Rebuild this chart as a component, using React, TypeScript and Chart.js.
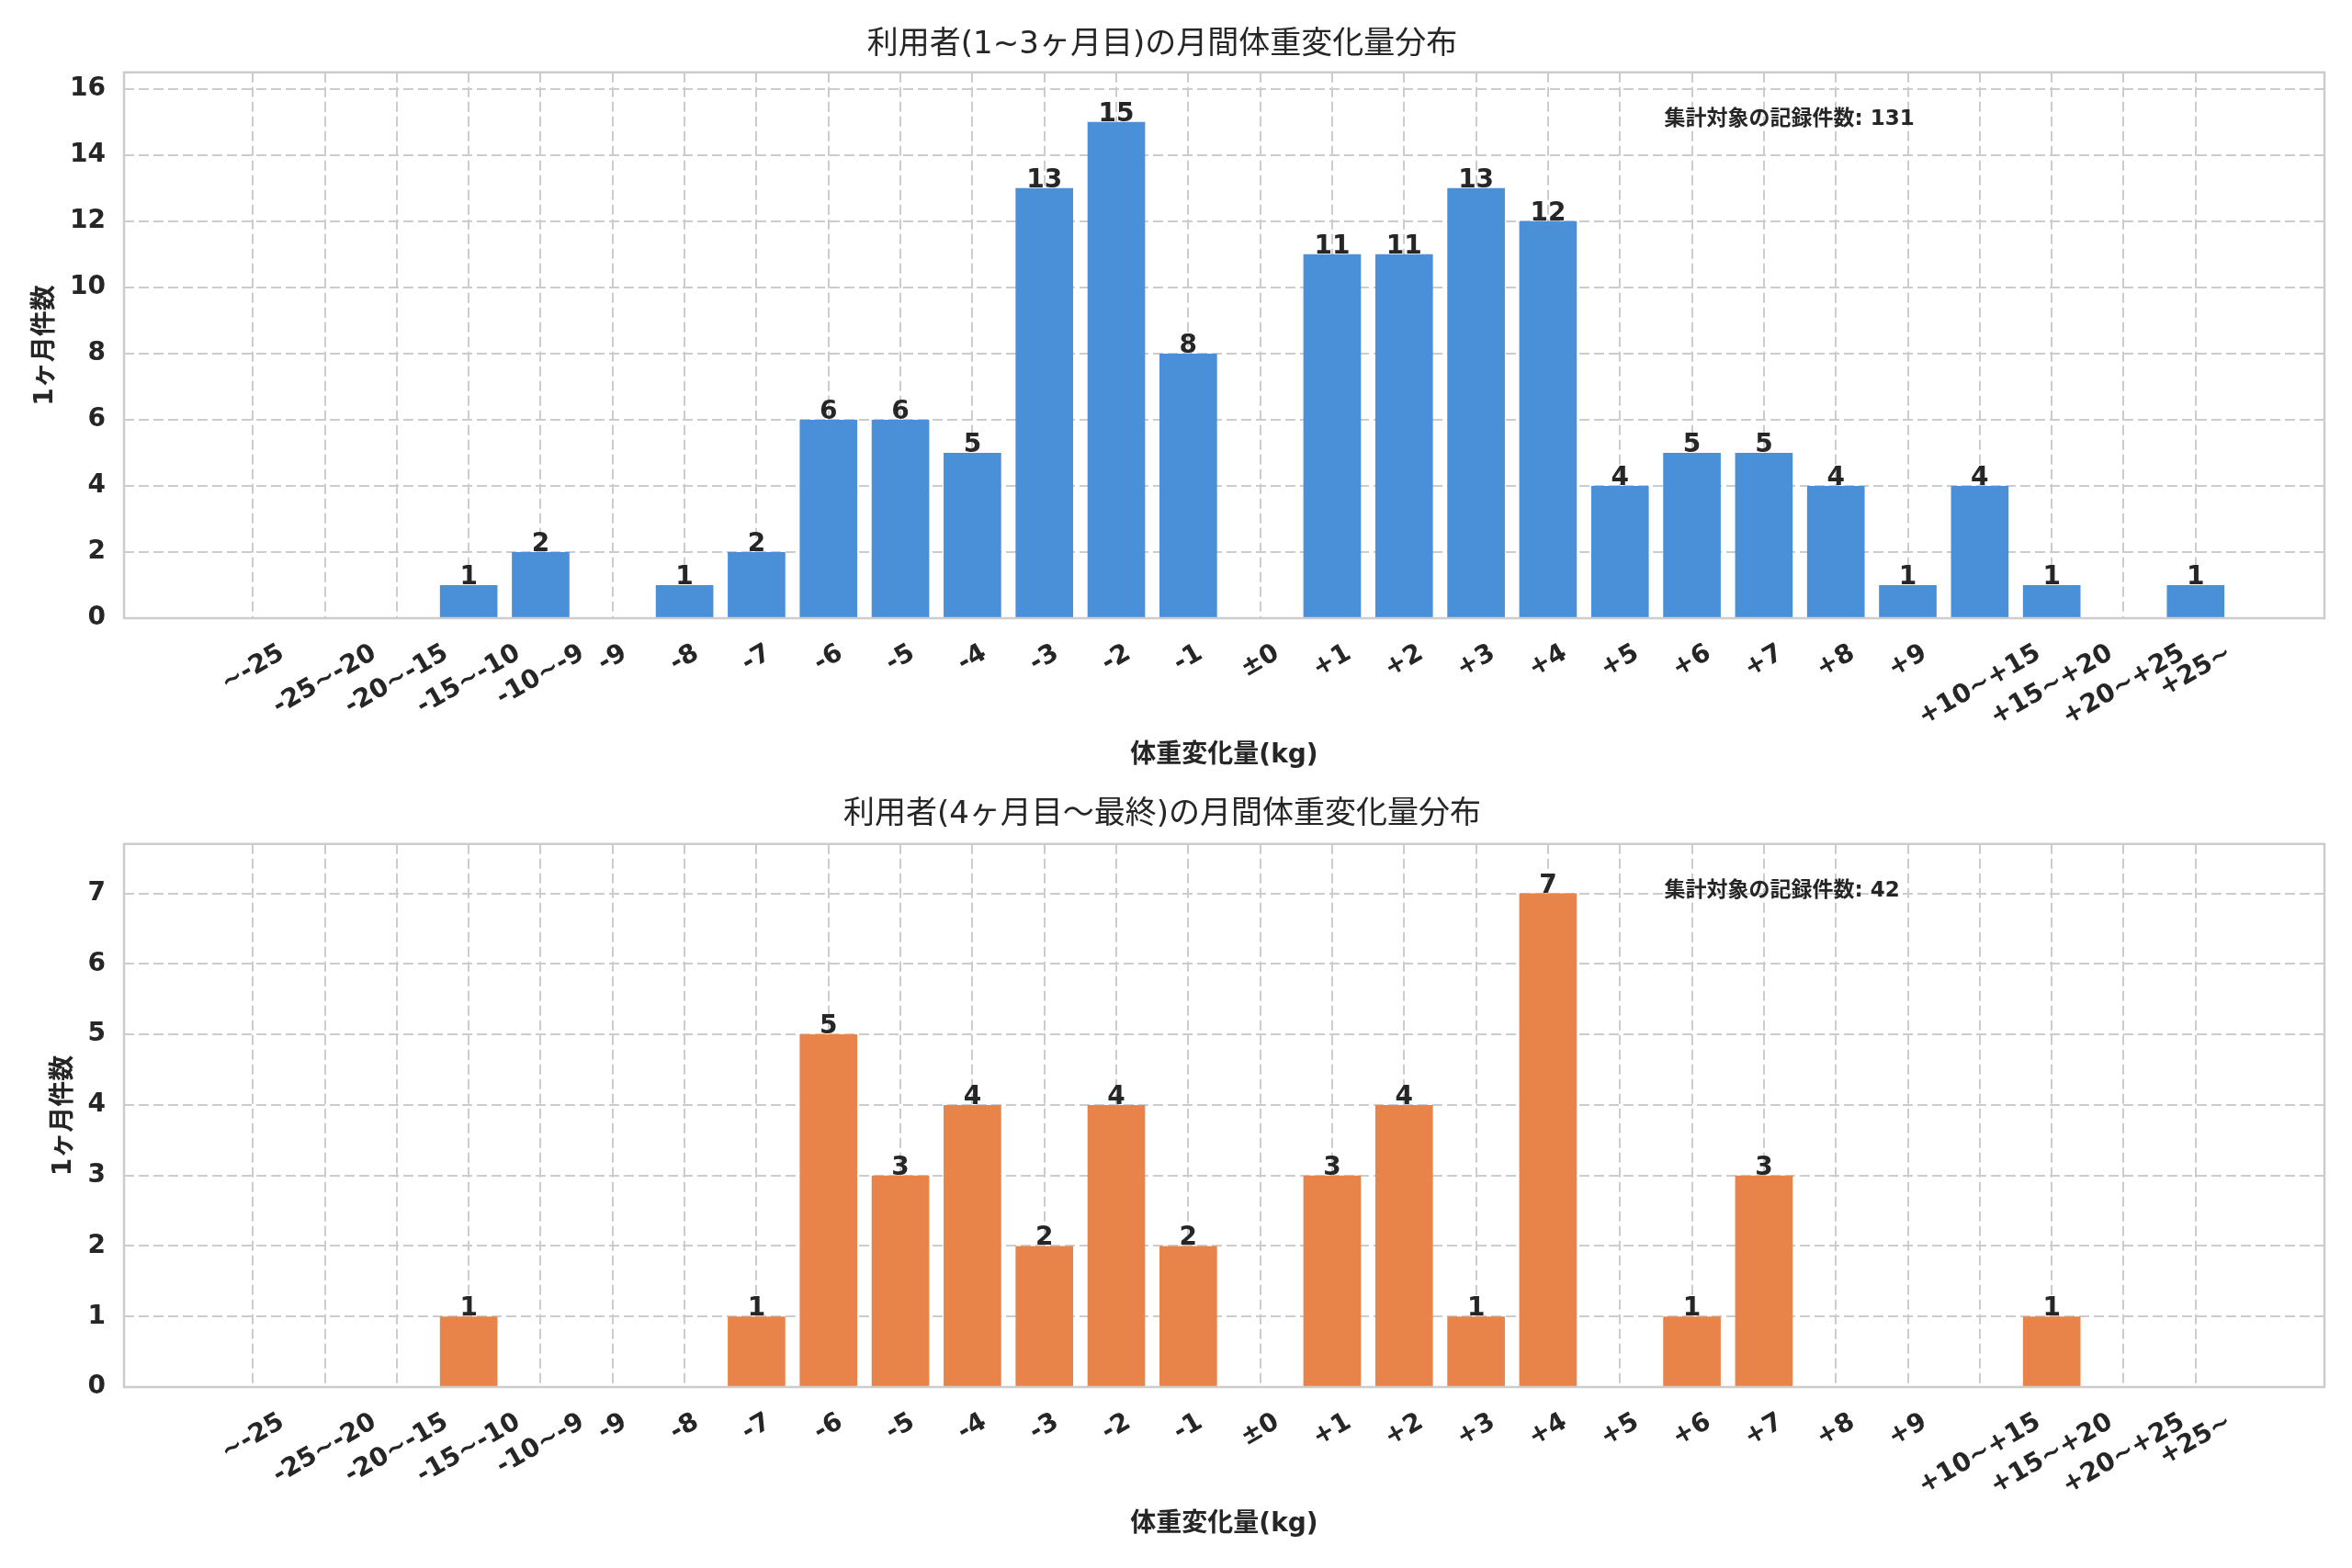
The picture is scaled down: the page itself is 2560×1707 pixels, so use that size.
import React, { useEffect, useRef } from 'react';
import { Chart, registerables } from 'chart.js';

Chart.register(...registerables);

// --- data ---
const categories = [
  '~-25', '-25~-20', '-20~-15', '-15~-10', '-10~-9',
  '-9', '-8', '-7', '-6', '-5', '-4', '-3', '-2', '-1',
  '±0',
  '+1', '+2', '+3', '+4', '+5', '+6', '+7', '+8', '+9',
  '+10~+15', '+15~+20', '+20~+25', '+25~',
];
const earlyCounts = [0, 0, 0, 1, 2, 0, 1, 2, 6, 6, 5, 13, 15, 8, 0, 11, 11, 13, 12, 4, 5, 5, 4, 1, 4, 1, 0, 1];
const laterCounts = [0, 0, 0, 1, 0, 0, 0, 1, 5, 3, 4, 2, 4, 2, 0, 3, 4, 1, 7, 0, 1, 3, 0, 0, 0, 1, 0, 0];
const earlyYTicks = [0, 2, 4, 6, 8, 10, 12, 14, 16];
const laterYTicks = [0, 1, 2, 3, 4, 5, 6, 7];

const earlyTitle = '利用者(1~3ヶ月目)の月間体重変化量分布';
const laterTitle = '利用者(4ヶ月目～最終)の月間体重変化量分布';
const xTitle = '体重変化量(kg)';
const yTitle = '1ヶ月件数';
const totalLabel = '集計対象の記録件数';

const FONT = "'DejaVu Sans', 'Noto Sans CJK JP', sans-serif";
const INK = '#262626';
const GRID = '#cccccc';

type PanelProps = {
  title: string;
  counts: number[];
  yTicks: number[];
  color: string;
  height: number;
  titlePad: { top: number; bottom: number };
  xAxisHeight: number;
};

function Panel({ title, counts, yTicks, color, height, titlePad, xAxisHeight }: PanelProps) {
  const canvasRef = useRef<HTMLCanvasElement | null>(null);

  useEffect(() => {
    if (!canvasRef.current) return;
    const n = categories.length;
    const span = n - 1 + 0.8;
    const xMin = -0.4 - span * 0.05;
    const xMax = n - 1 + 0.4 + span * 0.05;
    const yMax = Math.max(...counts) * 1.1;
    const total = counts.reduce((s, v) => s + v, 0);

    const overlay = {
      id: 'overlay',
      afterDatasetsDraw(chart: any) {
        const { ctx, chartArea: a } = chart;
        ctx.save();
        // frame
        ctx.strokeStyle = GRID;
        ctx.lineWidth = 2.5;
        ctx.strokeRect(a.left, a.top, a.right - a.left, a.bottom - a.top);

        // value labels
        ctx.fillStyle = INK;
        ctx.font = `bold 28px ${FONT}`;
        ctx.textAlign = 'center';
        ctx.textBaseline = 'alphabetic';
        const meta = chart.getDatasetMeta(0);
        meta.data.forEach((bar: any, i: number) => {
          if (!counts[i]) return;
          ctx.fillText(String(counts[i]), bar.x, bar.y - 1);
        });

        // x tick labels, rotated 30deg, centred on tick
        const xs = chart.scales.x;
        const ang = Math.PI / 6;
        const lh = 28 * 1.164;
        ctx.textBaseline = 'middle';
        categories.forEach((lab, i) => {
          const x = xs.getPixelForValue(i);
          const w = ctx.measureText(lab).width;
          const bh = w * Math.sin(ang) + lh * Math.cos(ang);
          ctx.save();
          ctx.translate(x, a.bottom + 22 + bh / 2);
          ctx.rotate(-ang);
          ctx.fillText(lab, 0, 0);
          ctx.restore();
        });

        // x title
        ctx.fillText(xTitle, (a.left + a.right) / 2, a.bottom + 150);

        // y title
        const ys = chart.scales.y;
        let maxW = 0;
        ys.ticks.forEach((t: any) => {
          maxW = Math.max(maxW, ctx.measureText(String(t.value)).width);
        });
        ctx.save();
        ctx.translate(a.left - 21 - maxW - 25, (a.top + a.bottom) / 2);
        ctx.rotate(-Math.PI / 2);
        ctx.fillText(yTitle, 0, 0);
        ctx.restore();

        // total annotation
        ctx.font = `bold 23px ${FONT}`;
        ctx.textAlign = 'left';
        ctx.fillText(`${totalLabel}: ${total}`, a.left + 0.7 * (a.right - a.left), a.top + 51);
        ctx.restore();
      },
    };

    const chart = new Chart(canvasRef.current, {
      type: 'bar',
      data: {
        datasets: [
          {
            data: counts.map((v, i) => ({ x: i, y: v })),
            backgroundColor: color,
            borderWidth: 0,
            barPercentage: 0.8,
            categoryPercentage: 1,
          },
        ],
      },
      options: {
        responsive: false,
        animation: false,
        layout: { padding: { left: 0, right: 30, top: 0, bottom: 0 } },
        plugins: {
          legend: { display: false },
          tooltip: { enabled: false },
          title: {
            display: true,
            text: title,
            color: INK,
            font: { family: FONT, size: 34, weight: 'normal' },
            padding: titlePad,
          },
        },
        scales: {
          x: {
            type: 'linear',
            min: xMin,
            max: xMax,
            offset: false,
            afterBuildTicks: (scale: any) => {
              scale.ticks = categories.map((_, i) => ({ value: i }));
            },
            afterFit: (scale: any) => {
              scale.height = xAxisHeight;
            },
            ticks: { display: false },
            grid: { color: GRID, lineWidth: 2, drawTicks: false, offset: false },
            border: { display: false, dash: [11, 5] },
          },
          y: {
            type: 'linear',
            min: 0,
            max: yMax,
            afterBuildTicks: (scale: any) => {
              scale.ticks = yTicks.map((v) => ({ value: v }));
            },
            afterFit: (scale: any) => {
              scale.width = 135;
            },
            ticks: {
              color: INK,
              padding: 20,
              font: { family: FONT, size: 28, weight: 'bold' },
              callback: (v: any) => String(v),
            },
            grid: { color: GRID, lineWidth: 2, drawTicks: false },
            border: { display: false, dash: [11, 5] },
          },
        },
      } as any,
      plugins: [overlay],
    });
    return () => chart.destroy();
  }, [title, counts, yTicks, color, titlePad, xAxisHeight]);

  return <canvas ref={canvasRef} width={2560} height={height} style={{ display: 'block' }} />;
}

const topPad = { top: 29, bottom: 9 };
const bottomPad = { top: 14, bottom: 11 };

export default function App() {
  useEffect(() => {
    document.body.style.margin = '0';
  }, []);
  return (
    <div style={{ width: 2560, height: 1707, background: '#ffffff' }}>
      <Panel
        title={earlyTitle}
        counts={earlyCounts}
        yTicks={earlyYTicks}
        color="#4a90d9"
        height={853}
        titlePad={topPad}
        xAxisHeight={180}
      />
      <Panel
        title={laterTitle}
        counts={laterCounts}
        yTicks={laterYTicks}
        color="#e8844a"
        height={854}
        titlePad={bottomPad}
        xAxisHeight={197}
      />
    </div>
  );
}
